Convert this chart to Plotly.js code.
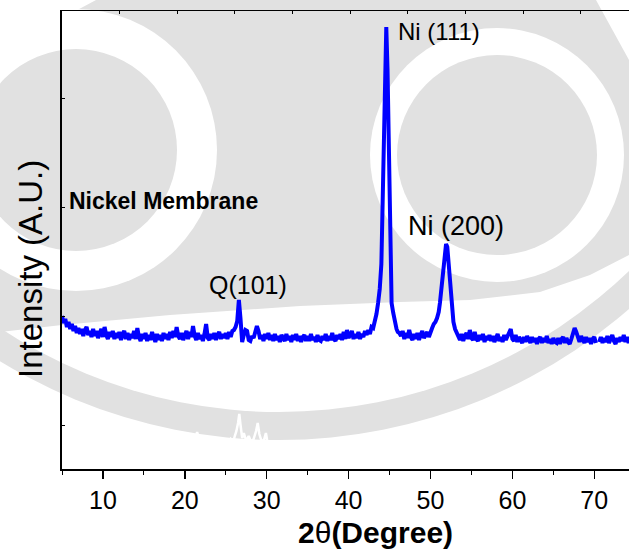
<!DOCTYPE html>
<html>
<head>
<meta charset="utf-8">
<script src="https://cdn.plot.ly/plotly-3.0.1.min.js"></script>
<style>html,body{margin:0;padding:0;background:#fff;}#chart{width:629px;height:552px;}</style>
</head>
<body>
<div id="chart"></div>
<script>
// ---------------- DATA (2θ in degrees, intensity in a.u.) ----------------
// Blue pattern: baseline segments sampled every 0.2°, peaks listed explicitly
const seg1Start = 5.0, seg1Step = 0.2;
const seg1Intensity = [
153,146,150,142,147,140,145,138,143,136,
141,135,140,133,139,142,134,138,132,140,
133,138,131,137,140,132,142,134,130,137,
132,138,130,136,131,137,129,135,138,130,
136,129,135,131,138,130,141,132,128,135,
130,136,128,134,129,137,130,127,135,129,
134,128,136,130,135,129,137,131,138,132,
142,133,130,136,129,135,138,130,137,132,
143,133,129,136,130,134,128,135,145,131,
129,135,130,136,129,134,137,130,135,131,
136,130,137,132,138,139,142,148,169,150,
127,134,139,138,129,128,133,131,136,143,
138,130,134,128,135,130,136,129,134,128,
135,129,133,127,134,130,128,135,129,133,
127,134,129,135,128,133,127,132,134,128,
133,128,135,129,132,127,134,129,128,133,
129,135,128,133,129,136,130,128,134,130,
135,129,137,130,139,131,134,138,130,135,
131,137,130,135,132,138,134,139,135,142,
141,147,155
];
const ni111Theta     = [43.6,43.8,44.0,44.15,44.3,44.45,44.6,44.75,44.88,45.0,45.13,45.25,45.45,45.65,45.85,46.0];
const ni111Intensity = [166, 180, 205, 260,  336, 400,  442, 400,  336,  260, 192,  166,  156,  147,  140,  137];
const seg2Start = 46.2, seg2Step = 0.2;
const seg2Intensity = [
136,133,138,130,136,131,139,132,129,135,
130,136,129,134,138,131,135,137,132,138
];
const ni200Theta     = [50.2,50.4,50.6,50.8,51.0,51.15,51.3,51.45,51.6,51.75,51.9,52.05,52.2,52.35,52.5,52.65,52.8,53.0,53.2];
const ni200Intensity = [141, 145, 147, 151, 157, 166,  178, 192,  205, 219,  225, 222,  205, 185,  168, 155,  147, 140, 136];
const seg3Start = 53.4, seg3Step = 0.2;
const seg3Intensity = [
134,129,135,128,133,136,130,139,131,129,
137,130,128,134,129,135,127,133,129,134,
128,133,127,132,135,128,132,127,134,129,
133,137,140,130,128,134,127,132,129,126,
132,127,133,128,126,132,127,131,125,130,
132,126,131,127,133,126,130,125,131,127,
126,131,125,130,132,126,131,127,125,130,
135,141,137,130,127,133,128,126,132,127,
131,125,130,132,126,null,127,132,126,131,
127,133,126,131,134,128,125,131,127,132,
128,134,127,132,126,131
];

// White (reference) pattern near the bottom
const wSegAStart = 5.0, wSegAStep = 0.5;
const wSegAIntensity = [22,27,19,25,18,24,20,26,17,22,16,19,13,15,12,14,11,13,12,14,11,13,12,15,13,14,16,14,17,15,18,16,21,37,22,19,21,18,22,20,24];
const wPeakTheta     = [25.3,25.6,25.9,26.1,26.3,26.5,26.65,26.8,27.0,27.2,27.5,27.8,28.1,28.4,28.7,28.9,29.1,29.4,29.7,29.9,30.1,30.4,30.7,31.0];
const wPeakIntensity = [26,  30,  27,  33,  38,  46,  55,   44,  31,  36,  28,  33,  27,  30,  38,  46,  35,  27,  30,  36,  26,  22,  19,  16];
const wSegBStart = 31.5, wSegBStep = 0.5;
const wSegBIntensity = [
14,12,11,13,10,12,9,11,10,12, 9,11,8,10,12,9,11,10,8,10,
9,11,10,8,12,9,10,11,9,12, 10,8,11,9,10,12,9,11,8,10,
9,11,10,12,8,10,9,11,10,9, 11,8,10,12,9,10,11,9,8,10,
12,9,11,10,8,9,11,10,12,9, 10,8,11,9,10,12,9,11,10,8,
9,11,10,12,9,10,11];

const yTickVals = [44,153,262,371];
const xTickLabels = ['10','20','30','40','50','60','70'];

const peakLabels = [
  {text:'Ni (111)', theta:45.75, intensity:438, size:24},
  {text:'Ni (200)', theta:47.05, intensity:243, size:27},
  {text:'Q(101)',   theta:22.75, intensity:184, size:25}
];
const xTitle = '<b>2</b>θ<b>(Degree)</b>';
const yTitle = 'Intensity (A.U.)';
const sampleLabel = '<b>Nickel Membrane</b>';

// ---------------- BUILD ----------------
function grid(start, step, n){ const a=[]; for(let i=0;i<n;i++) a.push(+(start+step*i).toFixed(3)); return a; }
const blueX = [].concat(grid(seg1Start,seg1Step,seg1Intensity.length), ni111Theta,
                        grid(seg2Start,seg2Step,seg2Intensity.length), ni200Theta,
                        grid(seg3Start,seg3Step,seg3Intensity.length));
const blueY = [].concat(seg1Intensity, ni111Intensity, seg2Intensity, ni200Intensity, seg3Intensity);
const whiteX = [].concat(grid(wSegAStart,wSegAStep,wSegAIntensity.length), wPeakTheta,
                         grid(wSegBStart,wSegBStep,wSegBIntensity.length));
const whiteY = [].concat(wSegAIntensity, wPeakIntensity, wSegBIntensity);

// Watermark (background decoration) drawn in pixel space, converted to paper coords
const PL=62, PT=11, PW=567, PH=458;
const GX = px => (px-PL)/PW, GY = py => (PT+PH-py)/PH;
const GRAY = '#e1e1e1';
function circ(cx,cy,r,c){ return {type:'circle',xref:'paper',yref:'paper',layer:'below',
  x0:GX(cx-r),x1:GX(cx+r),y0:GY(cy+r),y1:GY(cy-r),fillcolor:c,line:{width:0}}; }
function poly(pts,c){ return {type:'path',xref:'paper',yref:'paper',layer:'below',
  path:'M'+pts.map(p=>GX(p[0]).toFixed(4)+','+GY(p[1]).toFixed(4)).join(' L')+' Z',fillcolor:c,line:{width:0}}; }
const shapes = [
  circ(279,-93,533,GRAY),
  circ(279,-93,505,'#ffffff'),
  poly([[96,0],[596,0],[629,60],[629,255],[590,275],[540,292],[470,300],[400,302],[300,306],[170,315],[62,325],[0,332],[0,70],[40,30]],GRAY),
  circ(76,150,141,'#ffffff'),
  circ(76,150,101,GRAY),
  circ(497,155,127,'#ffffff'),
  circ(497,155,100,GRAY)
];

const FONT = 'Arial, "Liberation Sans", sans-serif';
const annotations = peakLabels.map(p=>({x:p.theta,y:p.intensity,xref:'x',yref:'y',text:p.text,showarrow:false,
  xanchor:'left',yanchor:'middle',font:{family:FONT,size:p.size,color:'#000'}}));
annotations.push({x:5.55,y:268,xref:'x',yref:'y',text:sampleLabel,showarrow:false,
  xanchor:'left',yanchor:'middle',font:{family:FONT,size:23,color:'#000'}});
annotations.push({x:GX(30),y:GY(269),xref:'paper',yref:'paper',text:yTitle,textangle:-90,showarrow:false,
  xanchor:'center',yanchor:'middle',font:{family:FONT,size:33,color:'#000'}});
annotations.push({x:GX(375),y:GY(532),xref:'paper',yref:'paper',text:xTitle,showarrow:false,
  xanchor:'center',yanchor:'middle',font:{family:FONT,size:30,color:'#000'}});

const traces = [
  {x:whiteX,y:whiteY,type:'scatter',mode:'lines',line:{color:'#ffffff',width:2.5},hoverinfo:'skip'},
  {x:blueX,y:blueY,type:'scatter',mode:'lines',line:{color:'#0000ff',width:4},connectgaps:false},
  {x:[5,74.24],y:[null,null],xaxis:'x2',type:'scatter',mode:'lines',hoverinfo:'skip'}
];

const layout = {
  width:629,height:552,
  margin:{l:PL,r:0,t:PT,b:552-PT-PH,pad:0},
  paper_bgcolor:'#ffffff',plot_bgcolor:'rgba(0,0,0,0)',
  showlegend:false,
  font:{family:FONT,color:'#000'},
  xaxis:{range:[5,74.24],showgrid:false,zeroline:false,showline:true,linecolor:'#000',linewidth:2,
    ticks:'outside',ticklen:8,tickwidth:1.5,tickcolor:'#000',
    tickvals:xTickLabels.map(Number),ticktext:xTickLabels,
    tickfont:{family:FONT,size:25,color:'#000'},
    minor:{dtick:5,tick0:0,ticks:'outside',ticklen:4,tickwidth:1,tickcolor:'#000'}},
  xaxis2:{overlaying:'x',side:'top',anchor:'y',range:[5,74.24],showgrid:false,zeroline:false,showline:true,
    linecolor:'#000',linewidth:1.5,ticks:'inside',ticklen:3,tickwidth:1,tickcolor:'#000',
    tick0:5,dtick:7.04,showticklabels:false},
  yaxis:{range:[0,458],showgrid:false,zeroline:false,showline:true,linecolor:'#000',linewidth:2,
    ticks:'inside',ticklen:3,tickwidth:1,tickcolor:'#000',tickvals:yTickVals,showticklabels:false},
  shapes:shapes,
  annotations:annotations
};
Plotly.newPlot('chart',traces,layout,{displayModeBar:false,staticPlot:true});
</script>
</body>
</html>
